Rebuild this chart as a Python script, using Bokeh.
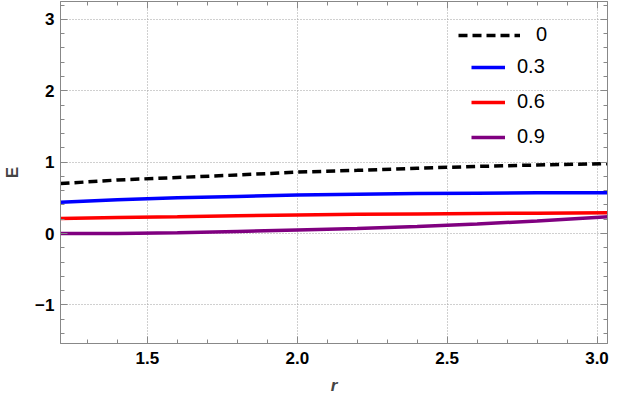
from bokeh.plotting import figure
from bokeh.models import (Range1d, LinearAxis, Legend, LegendItem, FixedTicker,
                          CustomJSTickFormatter)
from bokeh.embed import file_html
from bokeh.resources import INLINE

r = [1.21, 1.4, 1.6, 1.8, 2.0, 2.2, 2.4, 2.6, 2.8, 3.04]
e_0 = [0.70, 0.75, 0.785, 0.82, 0.86, 0.885, 0.915, 0.94, 0.96, 0.98]
e_03 = [0.44, 0.475, 0.50, 0.52, 0.54, 0.55, 0.56, 0.565, 0.57, 0.57]
e_06 = [0.21, 0.225, 0.235, 0.25, 0.26, 0.27, 0.275, 0.28, 0.285, 0.29]
e_09 = [0.00, 0.00, 0.01, 0.03, 0.05, 0.07, 0.10, 0.135, 0.175, 0.235]
labels = ["0", "0.3", "0.6", "0.9"]
x_ticks = [1.5, 2.0, 2.5, 3.0]
y_ticks = [-1, 0, 1, 2, 3]
x_minor = [1.3, 1.4, 1.6, 1.7, 1.8, 1.9, 2.1, 2.2, 2.3, 2.4, 2.6, 2.7, 2.8, 2.9]
y_minor = [-1.4, -1.2, -0.8, -0.6, -0.4, -0.2, 0.2, 0.4, 0.6, 0.8, 1.2, 1.4, 1.6, 1.8,
           2.2, 2.4, 2.6, 2.8, 3.2]

p = figure(width=610, height=397, output_backend="svg", toolbar_location=None,
           x_range=Range1d(1.21, 3.035), y_range=Range1d(-1.54, 3.25),
           min_border_left=51, min_border_right=3, min_border_top=1, min_border_bottom=0)
p.outline_line_color = "#888888"
p.background_fill_color = "white"
p.border_fill_color = "white"

grid_color = "#a0a0a0"
p.xgrid.ticker = FixedTicker(ticks=x_ticks)
p.ygrid.ticker = FixedTicker(ticks=y_ticks)
for g in (p.xgrid, p.ygrid):
    g.grid_line_color = grid_color
    g.grid_line_dash = "1 2"
    g.grid_line_width = 1

def style_axis(ax, ticks, minor, show_labels):
    ax.ticker = FixedTicker(ticks=ticks, minor_ticks=minor)
    ax.axis_line_color = "#888888"
    ax.major_tick_line_color = "#888888"
    ax.minor_tick_line_color = "#888888"
    ax.major_tick_in = 7
    ax.major_tick_out = 0
    ax.minor_tick_in = 4
    ax.minor_tick_out = 0
    if show_labels:
        ax.major_label_text_font = "Liberation Sans"
        ax.major_label_text_font_style = "bold"
        ax.major_label_text_font_size = "17px"
        ax.major_label_text_color = "black"
        ax.major_label_standoff = 6
    else:
        ax.formatter = CustomJSTickFormatter(code="return '';")
        ax.major_label_text_color = None
        ax.major_label_standoff = 0

style_axis(p.xaxis[0], x_ticks, x_minor, True)
style_axis(p.yaxis[0], y_ticks, y_minor, True)
p.xaxis[0].formatter = CustomJSTickFormatter(code="return tick.toFixed(1);")
p.xaxis[0].major_label_standoff = 8
p.yaxis[0].formatter = CustomJSTickFormatter(
    code="return tick < 0 ? '\u2212' + Math.abs(tick).toFixed(0) : tick.toFixed(0);")
p.xaxis[0].axis_label = "r"
p.xaxis[0].axis_label_text_font = "Liberation Sans"
p.xaxis[0].axis_label_text_font_style = "bold italic"
p.xaxis[0].axis_label_text_font_size = "17px"
p.xaxis[0].axis_label_standoff = 9
p.yaxis[0].axis_label = "E"
p.yaxis[0].axis_label_text_font = "Liberation Sans"
p.yaxis[0].axis_label_text_font_style = "bold"
p.yaxis[0].axis_label_text_font_size = "17px"
p.yaxis[0].axis_label_standoff = 10

top = LinearAxis()
right = LinearAxis()
style_axis(top, x_ticks, x_minor, False)
style_axis(right, y_ticks, y_minor, False)
p.add_layout(top, "above")
p.add_layout(right, "right")

l0 = p.line(r, e_0, line_color="black", line_width=3.5, line_dash="9 5")
l1 = p.line(r, e_03, line_color="#0000ff", line_width=3.5)
l2 = p.line(r, e_06, line_color="#ff0000", line_width=3.5)
l3 = p.line(r, e_09, line_color="#800080", line_width=3.5)

def make_legend(items, loc, gw, standoff):
    lg = Legend(items=items, location=loc, glyph_width=gw, glyph_height=22,
                label_height=22, spacing=12, padding=0, margin=0,
                label_standoff=standoff, label_text_font="Liberation Sans",
                label_text_font_size="20px", label_text_color="black",
                border_line_alpha=0, background_fill_alpha=0)
    return lg

leg1 = make_legend([LegendItem(label=labels[0], renderers=[l0])], (398, 297), 62, 16)
leg2 = make_legend([LegendItem(label=labels[1], renderers=[l1]),
                    LegendItem(label=labels[2], renderers=[l2]),
                    LegendItem(label=labels[3], renderers=[l3])], (411, 195), 34, 12)
p.add_layout(leg1, "center")
p.add_layout(leg2, "center")

open("out.html", "w").write(file_html(p, INLINE))
